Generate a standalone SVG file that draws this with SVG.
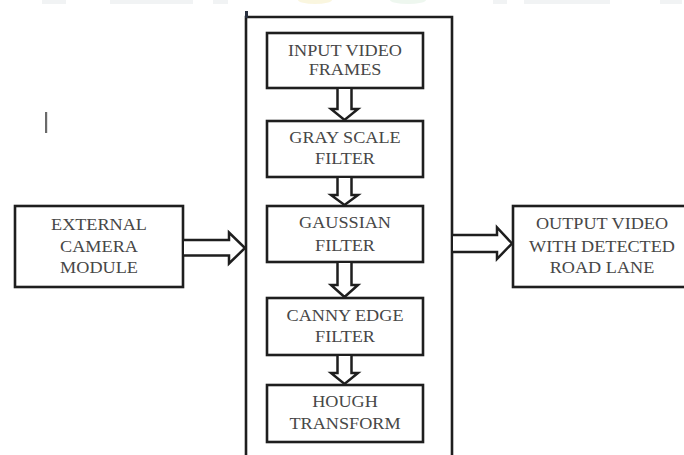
<svg xmlns="http://www.w3.org/2000/svg" width="684" height="455" viewBox="0 0 684 455">
  <style>
    .box { fill: #ffffff; stroke: #1e1e1e; stroke-width: 2.6; }
    .frame { fill: none; stroke: #1e1e1e; stroke-width: 2.6; }
    .arrow { fill: #ffffff; stroke: #1e1e1e; stroke-width: 2.5; stroke-linejoin: miter; }
    .label { font-family: "Liberation Serif", "Times New Roman", serif; font-size: 17px; fill: #474747; text-anchor: middle; }
    .strip { opacity: 0.35; }
  </style>
  <rect width="684" height="455" fill="#ffffff"/>

  <!-- faint band along the top edge -->
  <g class="strip">
    <rect x="42" y="0" width="24" height="4" fill="#d9dde1"/>
    <rect x="110" y="0" width="83" height="4" fill="#d9dde1"/>
    <rect x="213" y="0" width="15" height="4" fill="#d9dde1"/>
    <ellipse cx="315" cy="0" rx="17" ry="4" fill="#f3e7a6"/>
    <ellipse cx="408" cy="0" rx="18" ry="4" fill="#cfe9d4"/>
    <rect x="493" y="0" width="14" height="4" fill="#d9dde1"/>
    <rect x="524" y="0" width="86" height="4" fill="#d9dde1"/>
    <rect x="660" y="0" width="22" height="4" fill="#d9dde1"/>
  </g>

  <!-- stray text cursor -->
  <rect x="45" y="112" width="2.2" height="21" fill="#6a6a6a"/>

  <!-- processing unit frame -->
  <g id="processing-unit">
    <path class="frame" d="M246,458 V17 H452 V458"/>
    <line x1="246.5" y1="11" x2="246.5" y2="18" stroke="#2a3140" stroke-width="3"/>
  </g>

  <g id="external-camera">
    <rect class="box" x="15" y="206" width="168" height="81"/>
    <text class="label" transform="matrix(1.07 0 0 1 99 0)"><tspan x="0" y="230">EXTERNAL</tspan><tspan x="0" y="252">CAMERA</tspan><tspan x="0" y="273.5">MODULE</tspan></text>
  </g>

  <g id="input-frames">
    <rect class="box" x="267" y="33" width="156" height="55"/>
    <text class="label" transform="matrix(1.07 0 0 1 345 0)"><tspan x="0" y="56.5">INPUT VIDEO</tspan><tspan x="0" y="75.5">FRAMES</tspan></text>
  </g>

  <g id="grayscale-filter">
    <rect class="box" x="267" y="121" width="156" height="56"/>
    <text class="label" transform="matrix(1.07 0 0 1 345 0)"><tspan x="0" y="143.5">GRAY SCALE</tspan><tspan x="0" y="164">FILTER</tspan></text>
  </g>

  <g id="gaussian-filter">
    <rect class="box" x="267" y="206" width="156" height="56"/>
    <text class="label" transform="matrix(1.07 0 0 1 345 0)"><tspan x="0" y="228.5">GAUSSIAN</tspan><tspan x="0" y="251">FILTER</tspan></text>
  </g>

  <g id="canny-filter">
    <rect class="box" x="267" y="298" width="156" height="57"/>
    <text class="label" transform="matrix(1.07 0 0 1 345 0)"><tspan x="0" y="321">CANNY EDGE</tspan><tspan x="0" y="342.5">FILTER</tspan></text>
  </g>

  <g id="hough-transform">
    <rect class="box" x="267" y="385" width="156" height="57"/>
    <text class="label" transform="matrix(1.07 0 0 1 345 0)"><tspan x="0" y="407.5">HOUGH</tspan><tspan x="0" y="429.5">TRANSFORM</tspan></text>
  </g>

  <g id="output-video">
    <rect class="box" x="513" y="206" width="180" height="81"/>
    <text class="label" transform="matrix(1.07 0 0 1 602 0)"><tspan x="0" y="229">OUTPUT VIDEO</tspan><tspan x="0" y="252">WITH DETECTED</tspan><tspan x="0" y="273.5">ROAD LANE</tspan></text>
  </g>

  <!-- hollow block arrows -->
  <g id="connectors">
    <path class="arrow" d="M184,240 H229 V232.5 L245,248 L229,263.5 V255.5 H184"/>
    <path class="arrow" d="M453,235 H497 V227.5 L512,243.5 L497,259 V252 H453"/>
    <path class="arrow" d="M337.5,89 V109 H331 L344.5,120 L358,109 H351.5 V89"/>
    <path class="arrow" d="M337.5,178 V195 H331 L344.5,205 L358,195 H351.5 V178"/>
    <path class="arrow" d="M337.5,263 V285 H331 L344.5,297 L358,285 H351.5 V263"/>
    <path class="arrow" d="M337.5,356 V373 H331 L344.5,384 L358,373 H351.5 V356"/>
  </g>
</svg>
